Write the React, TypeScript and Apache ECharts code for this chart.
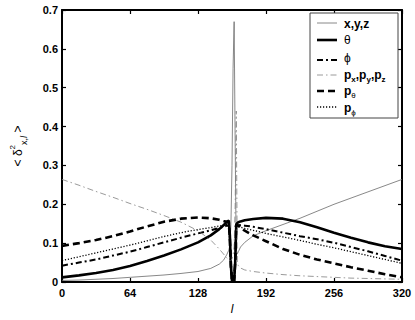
import React, { useEffect, useRef } from "react";
import * as echarts from "echarts";

const L = [0, 16, 32, 48, 64, 80, 96, 112, 128, 140, 148, 152, 155, 157, 158, 159, 160, 161, 162, 163, 164, 165, 166, 168, 172, 180, 192, 208, 224, 240, 256, 272, 288, 304, 320];

const XYZ = [0.004, 0.005, 0.007, 0.009, 0.012, 0.015, 0.018, 0.022, 0.027, 0.035, 0.046, 0.056, 0.07, 0.082, 0.095, 0.15, 0.3, 0.55, 0.67, 0.35, 0.07, 0.072, 0.078, 0.09, 0.102, 0.119, 0.132, 0.148, 0.164, 0.182, 0.2, 0.216, 0.232, 0.248, 0.264];
const THETA = [0.012, 0.017, 0.023, 0.031, 0.041, 0.054, 0.068, 0.084, 0.102, 0.12, 0.136, 0.146, 0.155, 0.158, 0.12, 0.04, 0.003, 0, 0.003, 0.05, 0.148, 0.152, 0.154, 0.156, 0.159, 0.162, 0.165, 0.163, 0.154, 0.141, 0.127, 0.114, 0.102, 0.092, 0.085];
const PHI = [0.042, 0.05, 0.058, 0.068, 0.078, 0.09, 0.102, 0.114, 0.125, 0.133, 0.139, 0.142, 0.145, 0.146, 0.11, 0.04, 0.003, 0, 0.003, 0.05, 0.146, 0.147, 0.147, 0.146, 0.145, 0.142, 0.136, 0.127, 0.118, 0.11, 0.101, 0.09, 0.079, 0.067, 0.055];
const PXYZ = [0.264, 0.249, 0.233, 0.218, 0.202, 0.187, 0.171, 0.154, 0.132, 0.108, 0.085, 0.072, 0.062, 0.057, 0.055, 0.054, 0.06, 0.07, 0.09, 0.2, 0.44, 0.05, 0.042, 0.036, 0.031, 0.027, 0.023, 0.019, 0.016, 0.014, 0.012, 0.01, 0.009, 0.008, 0.007];
const PTHETA = [0.093, 0.1, 0.108, 0.118, 0.13, 0.143, 0.155, 0.163, 0.166, 0.164, 0.16, 0.157, 0.155, 0.153, 0.11, 0.04, 0.003, 0, 0.003, 0.05, 0.148, 0.147, 0.145, 0.14, 0.132, 0.12, 0.105, 0.085, 0.07, 0.058, 0.048, 0.038, 0.029, 0.02, 0.012];
const PPHI = [0.055, 0.065, 0.075, 0.085, 0.095, 0.106, 0.117, 0.127, 0.135, 0.14, 0.144, 0.146, 0.148, 0.148, 0.11, 0.04, 0.003, 0, 0.003, 0.05, 0.145, 0.144, 0.143, 0.141, 0.138, 0.133, 0.125, 0.116, 0.107, 0.097, 0.088, 0.078, 0.068, 0.058, 0.048];

const X_MIN = 0, X_MAX = 320, X_STEP = 64;
const Y_MIN = 0, Y_MAX = 0.7, Y_STEP = 0.1;

const FONT = "'Liberation Sans', Arial, Helvetica, sans-serif";

type S = { name: string; data: number[]; color: string; width: number; dash: number[] | "solid" };
const SERIES: S[] = [
  { name: "x,y,z", data: XYZ, color: "#6a6a6a", width: 0.8, dash: "solid" },
  { name: "θ", data: THETA, color: "#000", width: 2.6, dash: "solid" },
  { name: "ϕ", data: PHI, color: "#000", width: 2, dash: [6, 3, 2, 3] },
  { name: "px,py,pz", data: PXYZ, color: "#808080", width: 0.8, dash: [6, 3, 1.5, 3] },
  { name: "pθ", data: PTHETA, color: "#000", width: 2.6, dash: [7, 4] },
  { name: "pϕ", data: PPHI, color: "#000", width: 1.3, dash: [1.2, 1.8] },
];

const LEGEND_TEXT = [
  "{b|x,y,z}",
  "{g|θ}",
  "{g|ϕ}",
  "{b|p}{s|x}{b|,p}{s|y}{b|,p}{s|z}",
  "{b|p}{sg|θ}",
  "{b|p}{sg|ϕ}",
];

export default function App() {
  const ref = useRef<HTMLDivElement>(null);
  useEffect(() => {
    const chart = echarts.init(ref.current!, null, { renderer: "svg" });
    const rich = {
      b: { fontFamily: FONT, fontWeight: "bold", fontSize: 12, color: "#000", lineHeight: 16, verticalAlign: "middle" },
      g: { fontFamily: FONT, fontSize: 12, color: "#000", lineHeight: 16 },
      s: { fontFamily: FONT, fontWeight: "bold", fontSize: 8, color: "#000", lineHeight: 16, verticalAlign: "bottom" },
      sg: { fontFamily: FONT, fontSize: 8, color: "#000", lineHeight: 16, verticalAlign: "bottom" },
    };
    const legendY = [24, 40, 58, 75, 91, 108];
    const lineY = [23, 40, 60, 75, 91, 107];
    const legendEls: any[] = [
      { type: "rect", shape: { x: 310, y: 13, width: 88, height: 105 }, style: { fill: "#fff", stroke: "#444", lineWidth: 1 }, z: 100 },
    ];
    SERIES.forEach((s, i) => {
      legendEls.push({
        type: "line",
        shape: { x1: 317, y1: lineY[i], x2: 337, y2: lineY[i] },
        style: { stroke: s.color, lineWidth: s.width, lineDash: s.dash === "solid" ? null : s.dash },
        z: 101,
      });
      legendEls.push({
        type: "text",
        x: 344,
        y: legendY[i],
        style: { text: LEGEND_TEXT[i], rich, verticalAlign: "middle", align: "left" },
        z: 101,
      });
    });

    const axisCommon = {
      axisLine: { show: true, onZero: false, lineStyle: { color: "#000", width: 2 } },
      axisTick: { show: true, inside: true, length: 4, lineStyle: { color: "#000", width: 1.2 } },
      splitLine: { show: false },
    };

    chart.setOption({
      animation: false,
      backgroundColor: "#fff",
      grid: { left: 49, right: 13, top: 10, bottom: 33 },
      xAxis: [
        {
          ...axisCommon,
          type: "value",
          min: X_MIN,
          max: X_MAX,
          interval: X_STEP,
          position: "bottom",
          axisLabel: { color: "#000", fontFamily: FONT, fontWeight: "bold", fontSize: 11, margin: 5 },
          name: "l",
          nameLocation: "middle",
          nameGap: 21,
          nameTextStyle: { fontFamily: FONT, fontStyle: "italic", fontSize: 12, color: "#000" },
        },
        {
          ...axisCommon,
          type: "value",
          min: X_MIN,
          max: X_MAX,
          interval: X_STEP,
          position: "top",
          axisLabel: { show: false },
        },
      ],
      yAxis: [
        {
          ...axisCommon,
          type: "value",
          min: Y_MIN,
          max: Y_MAX,
          interval: Y_STEP,
          position: "left",
          axisLabel: {
            color: "#000",
            fontFamily: FONT,
            fontWeight: "bold",
            fontSize: 11,
            margin: 4,
            formatter: (v: number) => (v === 0 ? "0" : v.toFixed(1)),
          },
          name: "{a|< δ}{sup|2}{sub|x,}{subi|l}{a| >}",
          nameLocation: "middle",
          nameRotate: 90,
          nameGap: 34,
          nameTextStyle: {
            rich: {
              a: { fontFamily: FONT, fontSize: 12, color: "#000", lineHeight: 20 },
              sup: { fontFamily: FONT, fontSize: 8, color: "#000", lineHeight: 20, verticalAlign: "top" },
              sub: { fontFamily: FONT, fontSize: 9, color: "#000", lineHeight: 20, verticalAlign: "bottom" },
              subi: { fontFamily: FONT, fontSize: 9, fontStyle: "italic", color: "#000", lineHeight: 20, verticalAlign: "bottom" },
            },
          },
        },
        {
          ...axisCommon,
          type: "value",
          min: Y_MIN,
          max: Y_MAX,
          interval: Y_STEP,
          position: "right",
          axisLabel: { show: false },
        },
      ],
      series: SERIES.map((s) => ({
        type: "line",
        name: s.name,
        data: L.map((l, i) => [l, s.data[i]]),
        showSymbol: false,
        symbol: "none",
        smooth: false,
        clip: true,
        lineStyle: { color: s.color, width: s.width, type: s.dash },
      })),
      graphic: legendEls,
    });
    return () => chart.dispose();
  }, []);
  return <div ref={ref} style={{ position: "absolute", left: 0, top: 0, width: 415, height: 320 }} />;
}
